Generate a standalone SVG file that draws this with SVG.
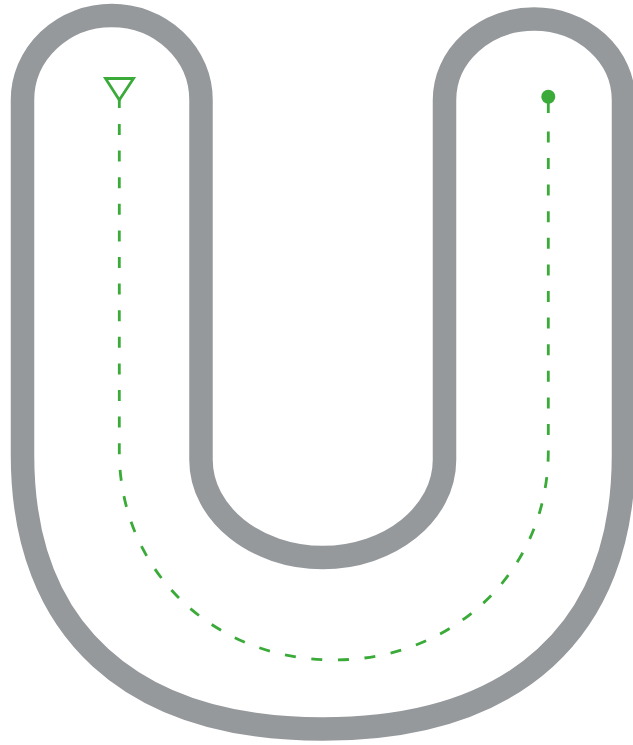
<svg xmlns="http://www.w3.org/2000/svg" width="633" height="745" viewBox="0 0 633 745">
  <style>
    .track { fill: none; stroke: #96999c; stroke-width: 23.5; stroke-linejoin: round; }
    .green { stroke: #3aaa38; stroke-width: 2.8; fill: none; }
    .dash { stroke-dasharray: 11 15.6; }
    .dot { fill: #3aaa38; }
  </style>
  <rect width="633" height="745" fill="#ffffff"/>
  <g id="u-track">
    <path class="track" d="M 22.5 100 A 89.25 84.5 0 0 1 201 100 L 201 460 C 201 513.6 255.8 557.5 322.75 557.5 C 389.7 557.5 444.5 513.6 444.5 460 L 444.5 100 A 89.5 81 0 0 1 623.5 100 L 623.5 455 C 623.5 630.4 515.2 729 322.75 729 C 130.6 729 22.5 630.4 22.5 455 Z"/>
  </g>
  <g id="start-marker">
    <polygon class="green" points="105.5,78.5 133.5,78.5 119.3,100"/>
    <line class="green" x1="119.3" y1="100" x2="119.3" y2="108"/>
  </g>
  <g id="end-marker">
    <circle class="dot" cx="548.3" cy="96.7" r="7"/>
    <line class="green" x1="548.3" y1="97" x2="548.3" y2="113"/>
  </g>
  <g id="connectors">
    <path class="green dash" d="M 119.3 124 L 119.3 451 C 119.3 572.2 215 660 333.8 660 C 452.6 660 548.3 572.2 548.3 451 L 548.3 130"/>
  </g>
</svg>
